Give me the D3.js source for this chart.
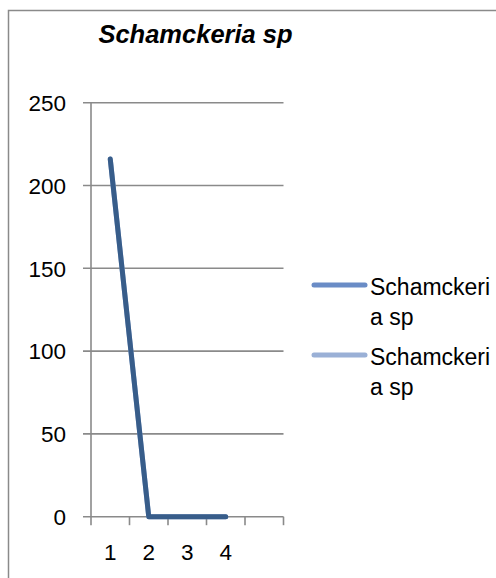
<!DOCTYPE html>
<html><head><meta charset="utf-8">
<script src="https://cdn.jsdelivr.net/npm/d3@7"></script>
<style>html,body{margin:0;padding:0;background:#fff;overflow:hidden}</style>
</head><body>
<svg id="c" width="496" height="578"></svg>
<script>
const categories = ["1", "2", "3", "4", ""];
const seriesNames = ["Schamckeria sp", "Schamckeria sp"];
const series1 = [216, 0, 0, 0, null];
const series2 = [216, 0, 0, 0, null];
const yTicks = [0, 50, 100, 150, 200, 250];
const title = "Schamckeria sp";

(function () {
const svg = d3.select("#c");
const font = "'Liberation Sans', Arial, sans-serif";
const gridColor = "#8a8a8a";

// frame
svg.append("rect").attr("x", 8.5).attr("y", 10.5).attr("width", 520).attr("height", 600)
  .attr("fill", "none").attr("stroke", gridColor).attr("stroke-width", 1.5);

const pLeft = 91, pRight = 283.5, pTop = 102.7, pBottom = 516.7;
const x = d3.scaleBand().domain(categories).range([pLeft, pRight]);
const y = d3.scaleLinear().domain([0, 250]).range([pBottom, pTop]);

const g = svg.append("g");
g.selectAll("line.grid").data(yTicks).join("line")
  .attr("x1", pLeft - 8).attr("x2", pRight)
  .attr("y1", d => y(d)).attr("y2", d => y(d))
  .attr("stroke", gridColor).attr("stroke-width", 1.6);
g.selectAll("text.yt").data(yTicks).join("text")
  .attr("x", 66).attr("y", d => y(d) + 8.2)
  .attr("text-anchor", "end").attr("font-family", font).attr("font-size", 22.5)
  .attr("fill", "#000").text(d => d);

g.append("line").attr("x1", pLeft).attr("x2", pLeft).attr("y1", pTop).attr("y2", pBottom)
  .attr("stroke", gridColor).attr("stroke-width", 1.6);

const bounds = categories.map(c => x(c)).concat([x.range()[1]]);
g.selectAll("line.xt").data(bounds).join("line")
  .attr("x1", d => d).attr("x2", d => d).attr("y1", pBottom).attr("y2", pBottom + 8.5)
  .attr("stroke", gridColor).attr("stroke-width", 1.6);
g.selectAll("text.xl").data(categories).join("text")
  .attr("x", d => x(d) + x.bandwidth() / 2).attr("y", 560)
  .attr("text-anchor", "middle").attr("font-family", font).attr("font-size", 22.5)
  .attr("fill", "#000").text(d => d);

const line = d3.line().defined(d => d != null)
  .x((d, i) => x(categories[i]) + x.bandwidth() / 2).y(d => y(d));
svg.append("path").datum(series2).attr("d", line).attr("fill", "none")
  .attr("stroke", "#95b0d8").attr("stroke-width", 5).attr("stroke-linecap", "round").attr("stroke-linejoin", "round");
svg.append("path").datum(series1).attr("d", line).attr("fill", "none")
  .attr("stroke", "#385d8a").attr("stroke-width", 5).attr("stroke-linecap", "round").attr("stroke-linejoin", "round");

svg.append("text").attr("x", 195.5).attr("y", 43).attr("text-anchor", "middle")
  .attr("font-family", font).attr("font-size", 25.5).attr("font-weight", "bold").attr("font-style", "italic")
  .attr("fill", "#000").text(title);

const legColors = ["#6a8cc6", "#9ab0d6"];
const legY = [285, 355];
seriesNames.forEach((name, i) => {
  svg.append("line").attr("x1", 314).attr("x2", 365).attr("y1", legY[i]).attr("y2", legY[i])
    .attr("stroke", legColors[i]).attr("stroke-width", 5).attr("stroke-linecap", "round");
  const t = svg.append("text").attr("x", 370).attr("y", legY[i] + 10)
    .attr("font-family", font).attr("font-size", 23).attr("fill", "#000");
  t.append("tspan").attr("x", 370).text(name.slice(0, 10));
  t.append("tspan").attr("x", 370).attr("dy", 30).text(name.slice(10).trim());
});
})();
</script>
</body></html>
